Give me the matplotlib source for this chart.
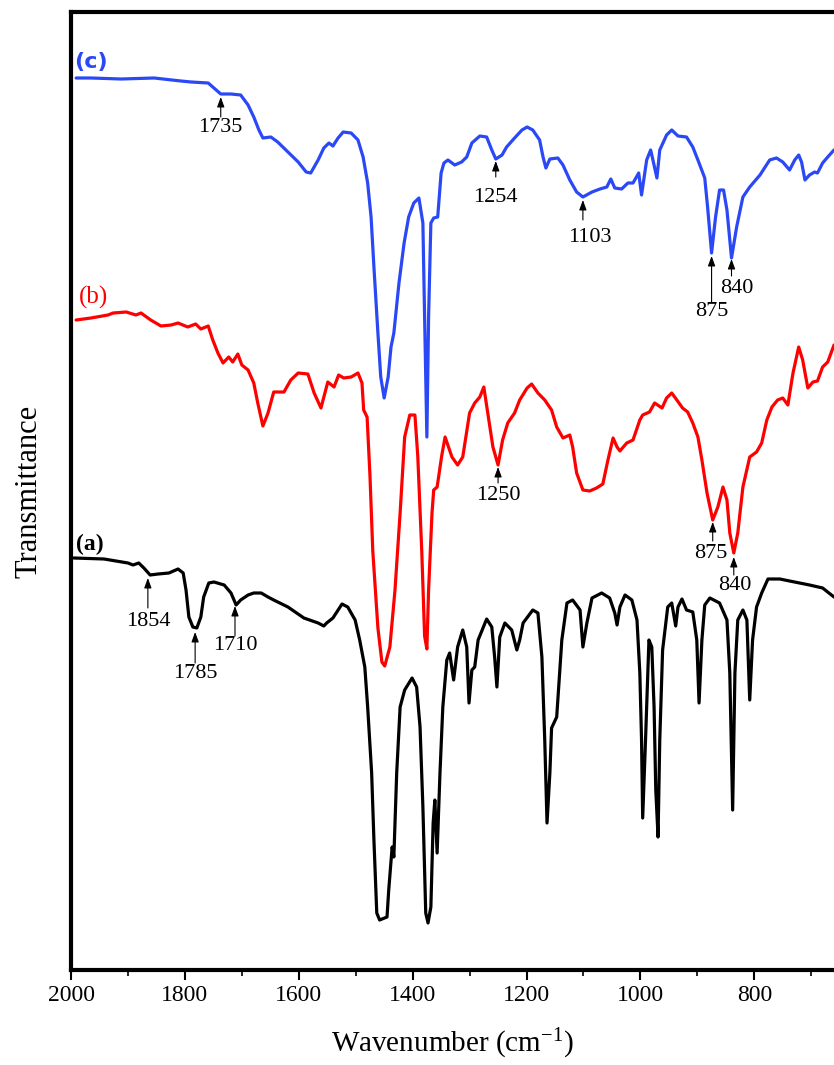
import numpy as np
import matplotlib
matplotlib.use("Agg")
import matplotlib.pyplot as plt
from matplotlib.ticker import MultipleLocator

plt.rcParams['font.family'] = ['Liberation Serif', 'DejaVu Serif']
plt.rcParams['mathtext.fontset'] = 'custom'
plt.rcParams['mathtext.rm'] = 'Liberation Serif'
plt.rcParams['mathtext.it'] = 'Liberation Serif:italic'

# ---- data (wavenumber cm-1, transmittance in arbitrary offset units) ----
wn_a = [1995, 1942, 1900, 1891, 1881, 1872, 1861, 1847, 1828, 1812, 1803, 1798, 1793, 1786, 1779,
        1772, 1767, 1758, 1749, 1731, 1719, 1710, 1702, 1689, 1679, 1666, 1654, 1644, 1619, 1591,
        1566, 1556, 1551, 1540, 1524, 1514, 1501, 1493, 1484, 1479, 1472, 1468, 1463, 1458, 1445,
        1442, 1436, 1433, 1428, 1422, 1414, 1401, 1393, 1387, 1382, 1377, 1373, 1368, 1364, 1361,
        1357, 1352, 1347, 1340, 1335, 1328, 1321, 1312, 1305, 1301, 1296, 1291, 1285, 1270, 1261,
        1256, 1252, 1247, 1238, 1226, 1217, 1212, 1206, 1189, 1180, 1173, 1168, 1164, 1159, 1156,
        1147, 1138, 1129, 1119, 1106, 1101, 1094, 1085, 1068, 1054, 1045, 1041, 1036, 1027, 1015,
        1006, 1001, 998, 996, 991, 985, 980, 976, 973, 969, 966, 961, 952, 945, 938,
        934, 927, 919, 908, 901, 897, 892, 887, 878, 861, 848, 843, 838, 834, 829,
        820, 813, 808, 803, 796, 787, 776, 755, 738, 703, 680, 660]
t_a = [412, 411, 407, 405, 407, 402, 395, 396, 397, 401, 397, 380, 353, 343, 342,
       353, 373, 387, 388, 385, 377, 365, 370, 375, 377, 377, 373, 370, 363, 352,
       347, 344, 347, 352, 366, 363, 350, 330, 303, 263, 197, 130, 57, 50, 53,
       80, 123, 113, 197, 263, 280, 292, 283, 243, 163, 57, 47, 63, 147, 170,
       117, 197, 263, 310, 317, 290, 323, 340, 323, 267, 300, 303, 330, 351, 343,
       313, 283, 333, 347, 340, 320, 330, 347, 360, 357, 313, 230, 147, 197, 242,
       253, 330, 367, 370, 360, 323, 347, 372, 377, 372, 357, 345, 363, 375, 370,
       350, 297, 230, 152, 230, 330, 323, 263, 180, 133, 230, 320, 363, 367, 344,
       363, 371, 360, 358, 330, 267, 330, 365, 372, 367, 350, 297, 160, 297, 350,
       360, 350, 270, 330, 363, 377, 391, 391, 389, 385, 382, 373]

wn_b = [1991, 1965, 1935, 1926, 1903, 1886, 1877, 1860, 1842, 1824, 1812, 1795, 1781, 1772, 1759,
        1751, 1742, 1733, 1723, 1716, 1707, 1700, 1689, 1679, 1672, 1663, 1654, 1644, 1626, 1614,
        1601, 1584, 1573, 1561, 1549, 1538, 1530, 1521, 1508, 1496, 1489, 1486, 1480, 1475, 1470,
        1461, 1454, 1449, 1440, 1431, 1422, 1414, 1405, 1396, 1391, 1384, 1379, 1375, 1372, 1366,
        1363, 1357, 1349, 1343, 1331, 1321, 1312, 1300, 1291, 1282, 1275, 1268, 1259, 1250, 1242,
        1233, 1221, 1212, 1199, 1191, 1180, 1168, 1156, 1147, 1136, 1124, 1119, 1112, 1101, 1089,
        1077, 1066, 1057, 1048, 1041, 1036, 1024, 1013, 1001, 996, 984, 975, 962, 954, 945,
        936, 926, 917, 908, 899, 892, 883, 873, 864, 855, 848, 843, 836, 829, 820,
        808, 796, 787, 778, 769, 759, 750, 741, 732, 722, 715, 706, 697, 689, 680,
        671, 660]
t_b = [650, 652, 655, 657, 658, 655, 657, 650, 644, 645, 647, 643, 646, 641, 644,
       630, 617, 607, 613, 608, 616, 605, 600, 587, 567, 544, 557, 578, 578, 590,
       597, 596, 577, 562, 588, 583, 595, 592, 593, 597, 587, 560, 553, 495, 419,
       342, 308, 304, 323, 380, 457, 533, 555, 555, 514, 419, 334, 321, 380, 457,
       480, 483, 514, 533, 513, 505, 513, 557, 567, 573, 583, 557, 523, 505, 530,
       547, 557, 570, 582, 586, 577, 570, 560, 543, 532, 535, 523, 497, 480, 479,
       482, 486, 510, 532, 523, 519, 527, 530, 550, 555, 558, 567, 562, 572, 577,
       570, 562, 558, 547, 533, 510, 477, 450, 463, 483, 470, 437, 417, 437, 483,
       513, 518, 527, 550, 563, 570, 572, 565, 597, 623, 610, 582, 588, 589, 603,
       608, 625]

wn_c = [1991, 1965, 1912, 1854, 1807, 1789, 1759, 1749, 1737, 1719, 1702, 1689, 1679, 1670, 1663,
        1649, 1637, 1619, 1601, 1587, 1579, 1566, 1556, 1547, 1540, 1531, 1522, 1508, 1496, 1487,
        1479, 1473, 1468, 1461, 1456, 1450, 1443, 1438, 1433, 1424, 1415, 1407, 1398, 1389, 1382,
        1379, 1375, 1372, 1368, 1363, 1356, 1350, 1345, 1338, 1326, 1314, 1305, 1296, 1282, 1270,
        1261, 1254, 1243, 1235, 1221, 1208, 1199, 1189, 1177, 1171, 1166, 1159, 1145, 1136, 1124,
        1112, 1101, 1085, 1071, 1059, 1052, 1045, 1033, 1022, 1013, 1003, 998, 989, 982, 978,
        971, 966, 954, 945, 934, 919, 908, 899, 887, 882, 875, 868, 861, 854, 848,
        840, 831, 820, 808, 790, 773, 761, 750, 738, 729, 722, 717, 711, 703, 694,
        689, 680, 671, 660]
t_c = [892, 892, 891, 892, 889, 888, 887, 882, 876, 876, 875, 865, 853, 840, 832,
       833, 828, 818, 808, 798, 797, 810, 822, 827, 824, 832, 838, 837, 830, 813,
       787, 753, 703, 637, 593, 572, 593, 623, 637, 687, 727, 753, 767, 772, 747,
       653, 533, 653, 747, 752, 753, 797, 807, 810, 805, 808, 813, 827, 834, 833,
       820, 811, 815, 823, 832, 840, 843, 840, 830, 813, 802, 811, 812, 805, 790,
       778, 773, 778, 781, 783, 791, 782, 781, 787, 787, 797, 775, 810, 820, 810,
       792, 820, 835, 840, 834, 833, 823, 810, 792, 763, 717, 753, 780, 780, 760,
       712, 743, 773, 783, 795, 810, 812, 808, 800, 810, 815, 808, 790, 795, 798,
       797, 807, 813, 820]

series_labels = ['(a)', '(b)', '(c)']
series_colors = ['black', '#ff0000', '#2a48f5']

# peak annotations: label, arrow x, arrow tip, arrow tail, text x, text y
ann_labels = ['1735', '1254', '1103', '875', '840',
              '1250', '875', '840',
              '1854', '1785', '1710']
ann_x = [1737, 1254, 1101, 875, 840, 1250, 873, 836, 1865, 1782, 1712]
ann_tip = [873, 809, 770, 714, 711, 503, 448, 413, 392, 338, 364]
ann_tail = [853, 793, 750, 668, 694, 487, 429, 395, 362, 307, 334]
ann_tx = [1737, 1254, 1089, 875, 831, 1250, 876, 834, 1865, 1782, 1712]
ann_ty = [843, 773, 733, 659, 682, 474, 417, 384, 349, 297, 324]

fig = plt.figure(figsize=(8.34, 10.65), dpi=100)
ax = fig.add_axes([71 / 834, 95 / 1065, (834 - 71) / 834, 958 / 1065])

for wn, t, c in zip([wn_a, wn_b, wn_c], [t_a, t_b, t_c], series_colors):
    ax.plot(wn, t, color=c, lw=2.3, solid_joinstyle='round', solid_capstyle='round')

for lab, x, tip, tail, tx, ty in zip(ann_labels, ann_x, ann_tip, ann_tail, ann_tx, ann_ty):
    ax.annotate('', xy=(x, tip), xytext=(x, tail),
                arrowprops=dict(arrowstyle='-|>,head_length=0.6,head_width=0.22',
                                color='black', lw=0.8, shrinkA=0, shrinkB=0))
    ax.text(tx, ty, lab, ha='center', va='center', fontsize=16, color='black')

ax.text(1967, 426, series_labels[0], color=series_colors[0], fontsize=17, fontweight='bold',
        ha='center', va='center')
ax.text(1960, 673, series_labels[1], color=series_colors[1], fontsize=18, ha='center', va='center')
ax.text(1965, 908, series_labels[2], color=series_colors[2], fontsize=16, fontweight='bold',
        ha='center', va='center', family='DejaVu Sans')

ax.set_xlim(2000, 660)
ax.set_ylim(0, 958)
ax.xaxis.set_major_locator(MultipleLocator(200))
ax.xaxis.set_minor_locator(MultipleLocator(100))
ax.set_yticks([])
ax.tick_params(axis='x', which='major', direction='out', length=7, width=1.5, labelsize=17, pad=4)
ax.tick_params(axis='x', which='minor', direction='out', length=4, width=1.2)
for s in ['left', 'bottom', 'top']:
    ax.spines[s].set_linewidth(3)
ax.spines['right'].set_visible(False)

ax.set_xlabel('Wavenumber (cm$^{-1}$)', fontsize=21, labelpad=15)
ax.set_ylabel('Transmittance', fontsize=22, labelpad=20)

fig.savefig('out.png', dpi=100)
